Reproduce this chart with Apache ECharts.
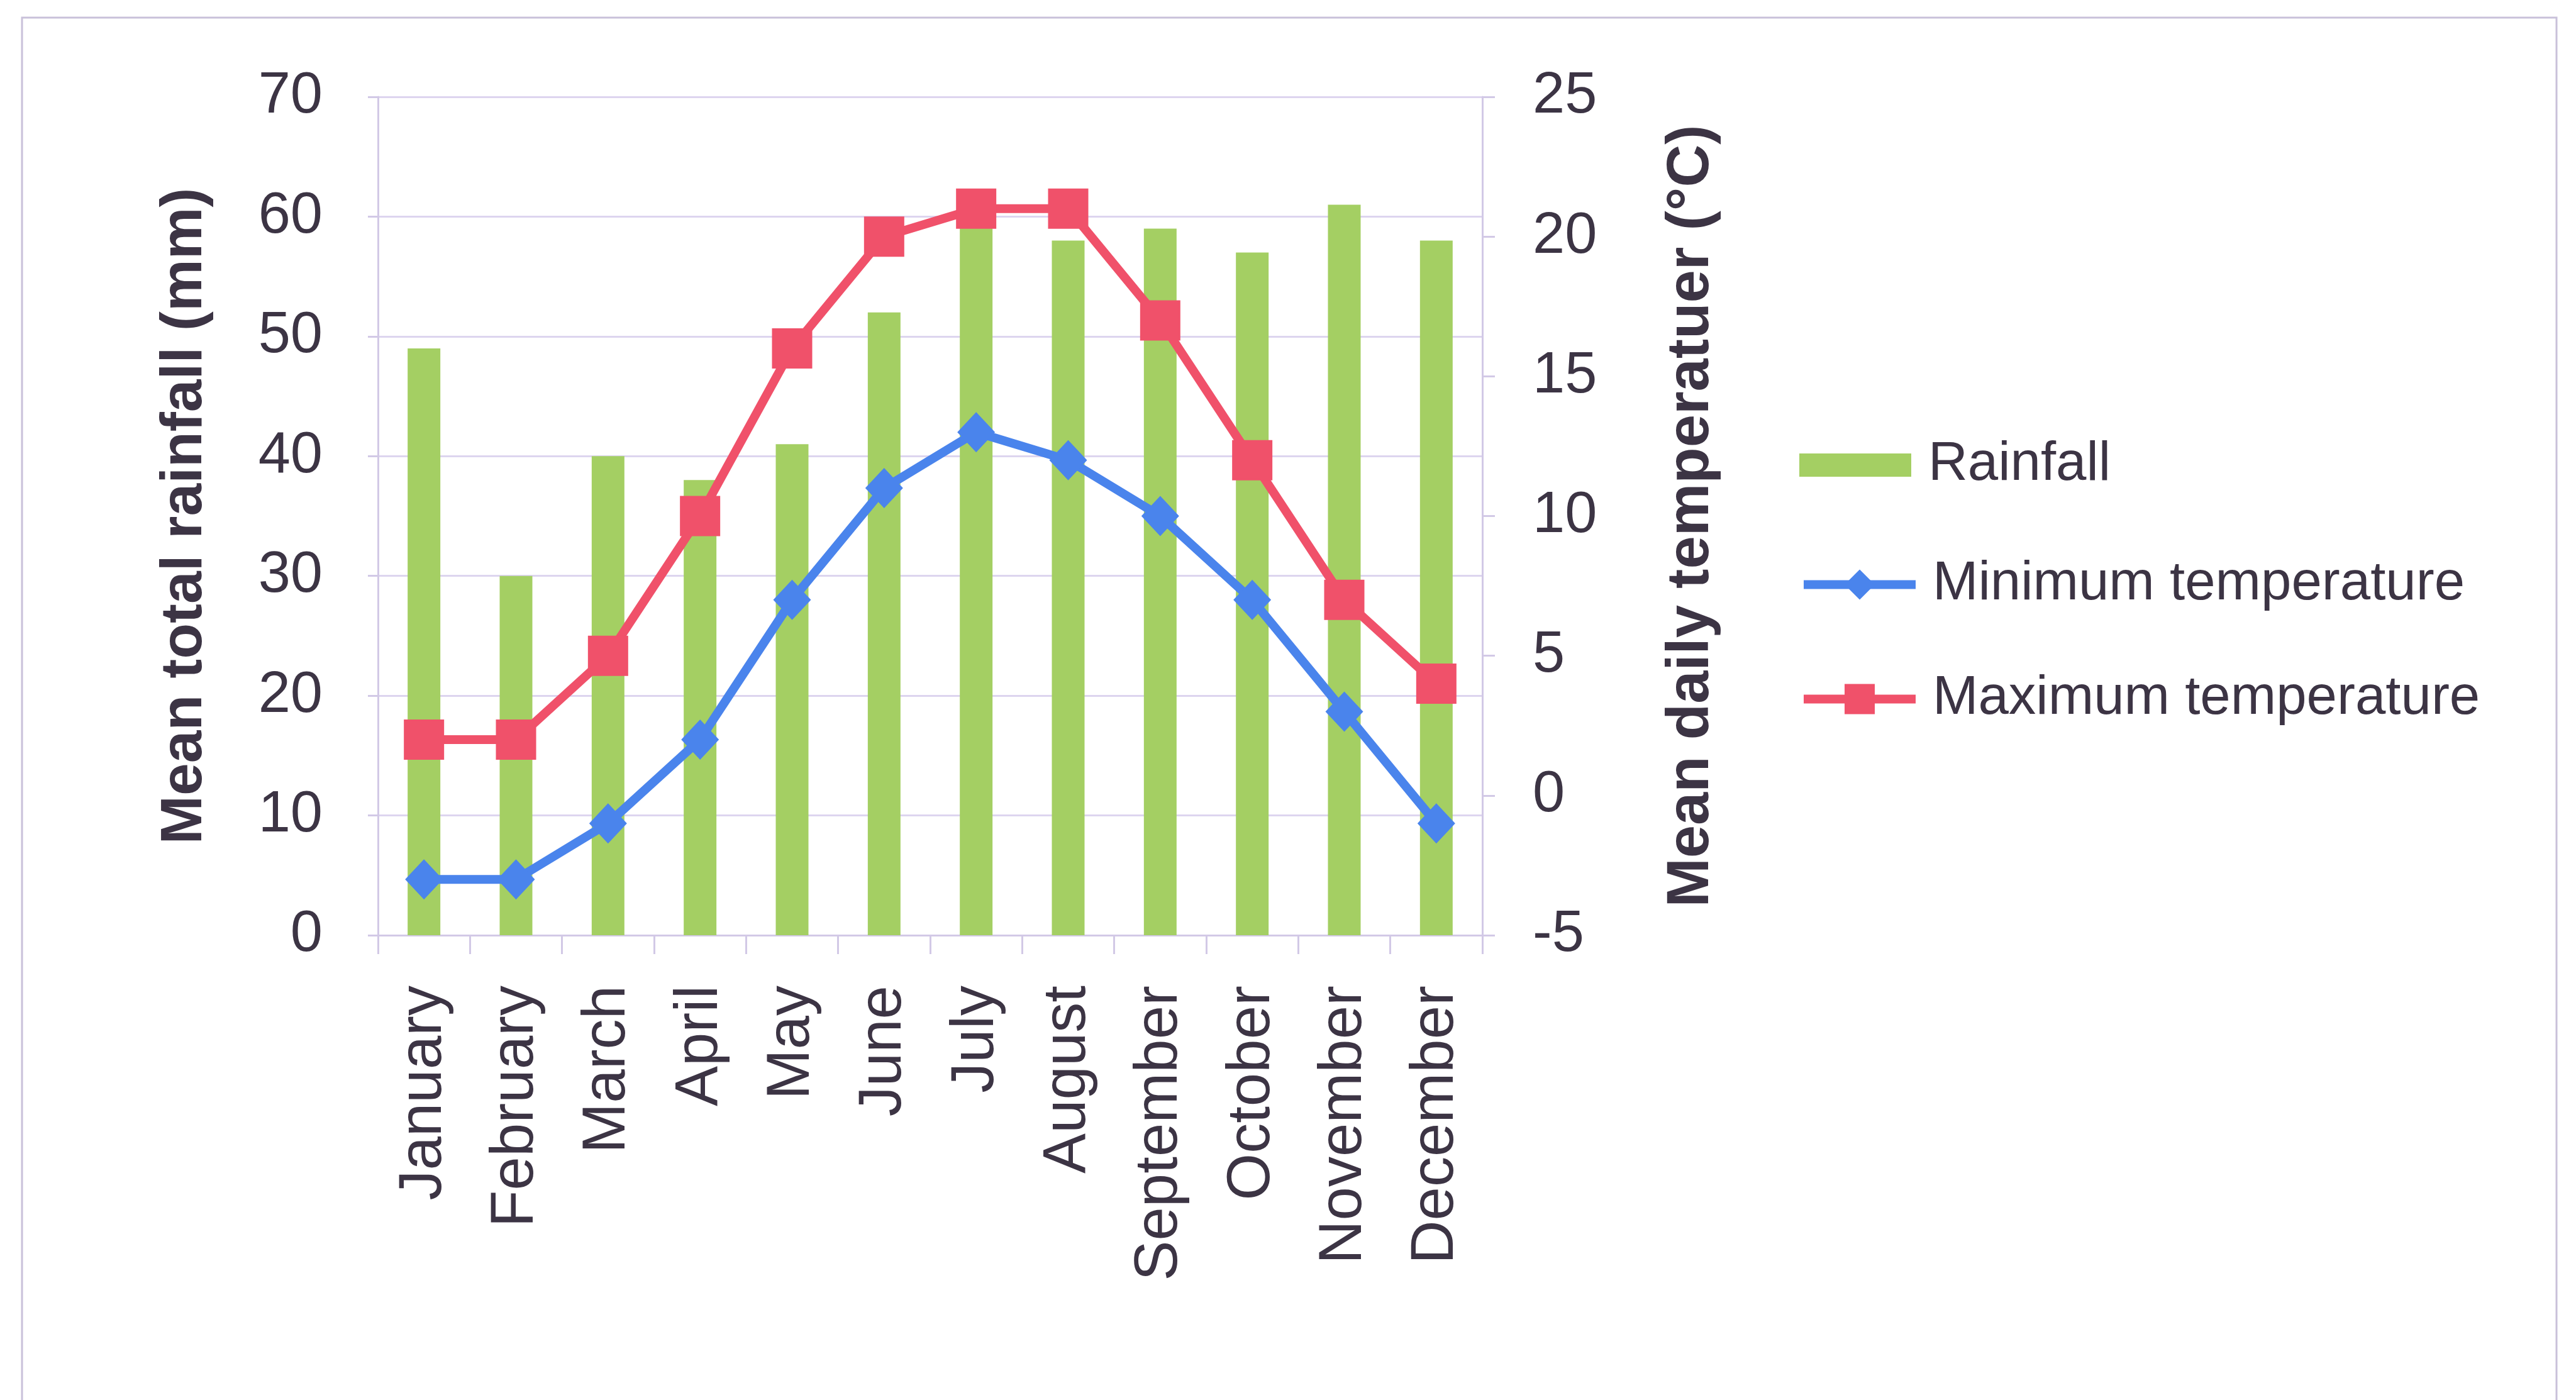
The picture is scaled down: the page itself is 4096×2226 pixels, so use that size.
<!DOCTYPE html>
<html>
<head>
<meta charset="utf-8">
<title>Monthly rainfall and temperature</title>
<script src="https://cdn.jsdelivr.net/npm/echarts@6/dist/echarts.min.js"></script>
<style>
  html, body { margin: 0; padding: 0; background: #ffffff; }
  #chart { width: 4096px; height: 2226px; }
</style>
</head>
<body>
<div id="chart"></div>
<script>
// Monthly climate normals
const months = ['January', 'February', 'March', 'April', 'May', 'June',
                'July', 'August', 'September', 'October', 'November', 'December'];
const rainfall = [49, 30, 40, 38, 41, 52, 60, 58, 59, 57, 61, 58];      // mm
const minTemp  = [-3, -3, -1, 2, 7, 11, 13, 12, 10, 7, 3, -1];          // °C
const maxTemp  = [2, 2, 5, 10, 16, 20, 21, 21, 17, 12, 7, 4];           // °C

const FONT = 'Liberation Sans, Arial, sans-serif';
const TEXT = '#3c3444';
const AXIS = '#d2c9e6';
const GRID = '#ddd5ef';
const BLUE = '#4a84ec';
const RED = '#f0516a';
const LINE_W = 14;

const chart = echarts.init(document.getElementById('chart'), null, { renderer: 'canvas' });

chart.setOption({
  animation: false,
  backgroundColor: '#ffffff',
  graphic: [{
    type: 'rect',
    silent: true,
    z: -10,
    shape: { x: 35, y: 28, width: 4030, height: 2400 },
    style: { fill: 'none', stroke: '#c9c1da', lineWidth: 3 }
  }],
  grid: { left: 601, top: 154, width: 1756, height: 1333 },
  legend: [{
    data: ['Rainfall'],
    left: 2856, top: 691,
    icon: 'rect',
    itemWidth: 178, itemHeight: 37,
    textStyle: { fontSize: 87, color: TEXT, fontFamily: FONT, padding: [0, 0, 0, 22] }
  }, {
    data: ['Minimum temperature', 'Maximum temperature'],
    orient: 'vertical',
    left: 2856, top: 881,
    itemWidth: 178, itemHeight: 60, itemGap: 95,
    lineStyle: { width: LINE_W },
    textStyle: { fontSize: 87, color: TEXT, fontFamily: FONT, padding: [0, 0, 0, 22] }
  }],
  xAxis: {
    type: 'category',
    data: months,
    boundaryGap: true,
    axisLine: { lineStyle: { color: AXIS, width: 3 } },
    axisTick: { show: true, length: 30, lineStyle: { color: AXIS, width: 3 } },
    axisLabel: { rotate: 90, margin: 80, fontSize: 96, color: TEXT, fontFamily: FONT }
  },
  yAxis: [{
    type: 'value',
    position: 'left',
    min: 0, max: 70, interval: 10,
    name: 'Mean total rainfall (mm)',
    nameLocation: 'middle',
    nameRotate: 90,
    nameGap: 260,
    nameTextStyle: { fontSize: 93, fontWeight: 'bold', color: TEXT, fontFamily: FONT },
    axisLine: { show: true, lineStyle: { color: AXIS, width: 3 } },
    axisTick: { show: true, length: 16, lineStyle: { color: AXIS, width: 3 } },
    axisLabel: { margin: 88, fontSize: 92, color: TEXT, fontFamily: FONT },
    splitLine: { show: true, lineStyle: { color: GRID, width: 3 } }
  }, {
    type: 'value',
    position: 'right',
    min: -5, max: 25, interval: 5,
    name: 'Mean daily temperatuer (°C)',
    nameLocation: 'middle',
    nameRotate: 90,
    nameGap: 286,
    nameTextStyle: { fontSize: 94, fontWeight: 'bold', color: TEXT, fontFamily: FONT },
    axisLine: { show: true, lineStyle: { color: AXIS, width: 3 } },
    axisTick: { show: true, length: 20, lineStyle: { color: AXIS, width: 3 } },
    axisLabel: { margin: 80, fontSize: 92, color: TEXT, fontFamily: FONT },
    splitLine: { show: false }
  }],
  series: [{
    name: 'Rainfall',
    type: 'bar',
    yAxisIndex: 0,
    data: rainfall,
    barWidth: 52,
    itemStyle: { color: '#a4cf63' },
    z: 1
  }, {
    name: 'Minimum temperature',
    type: 'line',
    yAxisIndex: 1,
    data: minTemp,
    symbol: 'diamond',
    symbolSize: [60, 64],
    lineStyle: { color: BLUE, width: LINE_W },
    itemStyle: { color: BLUE },
    z: 3
  }, {
    name: 'Maximum temperature',
    type: 'line',
    yAxisIndex: 1,
    data: maxTemp,
    symbol: 'rect',
    symbolSize: 64,
    lineStyle: { color: RED, width: LINE_W },
    itemStyle: { color: RED },
    z: 4
  }]
});
</script>
</body>
</html>
